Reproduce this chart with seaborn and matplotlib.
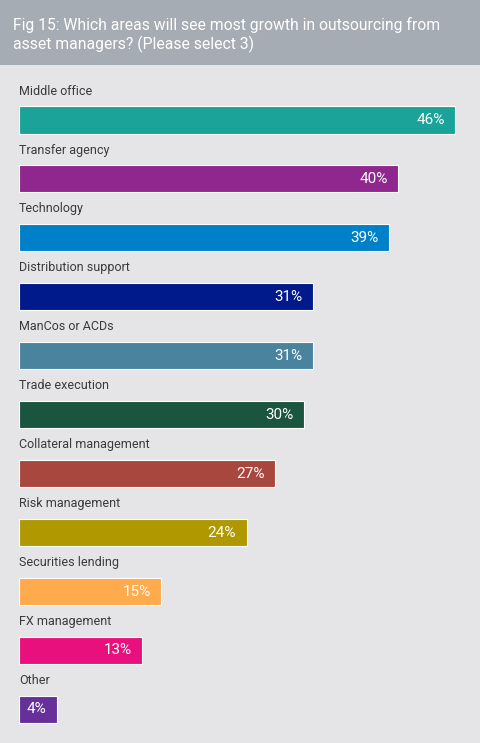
import matplotlib
matplotlib.use('Agg')
import matplotlib.pyplot as plt
import seaborn as sns
import pandas as pd
from matplotlib.patches import Rectangle

# Data
categories = ['Middle office', 'Transfer agency', 'Technology', 'Distribution support',
              'ManCos or ACDs', 'Trade execution', 'Collateral management',
              'Risk management', 'Securities lending', 'FX management', 'Other']
values = [46, 40, 39, 31, 31, 30, 27, 24, 15, 13, 4]
colors = ['#1ba39a', '#90278e', '#0080c9', '#001a8c', '#4a839e', '#1a5540',
          '#a8473e', '#b09800', '#ffaa4d', '#e8107d', '#66309a']

df = pd.DataFrame({'Area': categories, 'Share': values})

sns.set_style('white')
plt.rcParams['font.family'] = ['Roboto', 'DejaVu Sans']

W, H = 480, 743
fig = plt.figure(figsize=(W / 100, H / 100), dpi=100)
fig.patch.set_facecolor('#e5e5e8')

# header band
head = 65
fig.patches.append(Rectangle((0, 1 - head / H), 1, head / H, transform=fig.transFigure,
                             facecolor='#a6acb3', edgecolor='none', zorder=0))
fig.text(13 / W, 1 - 35 / H,
         'Fig 15: Which areas will see most growth in outsourcing from\nasset managers? (Please select 3)',
         color='white', fontsize=11.3, ha='left', va='center', linespacing=1.25)

ax = fig.add_axes([19 / W, 0, 1 - 19 / W, (H - head) / H])
ax.set_facecolor('#e5e5e8')
sns.barplot(data=df, x='Share', y='Area', hue='Area', palette=colors, legend=False,
            orient='h', width=0.46, saturation=1, edgecolor='white', linewidth=0.8, ax=ax)

ax.set_xlim(0, 48.6)
ax.set_ylim(10.57, -0.933)
for s in ax.spines.values():
    s.set_visible(False)
ax.set_xticks([])
ax.set_yticks([])
ax.set_xlabel('')
ax.set_ylabel('')

for i, (cat, v) in enumerate(zip(categories, values)):
    ax.text(0, i - 0.49, cat, ha='left', va='center', fontsize=9, color='#3a3a3a')
    ax.text(v - 1.1, i, f'{v}%', ha='right', va='center', fontsize=11, color='white')

fig.savefig('out.png', dpi=100, facecolor=fig.get_facecolor())
